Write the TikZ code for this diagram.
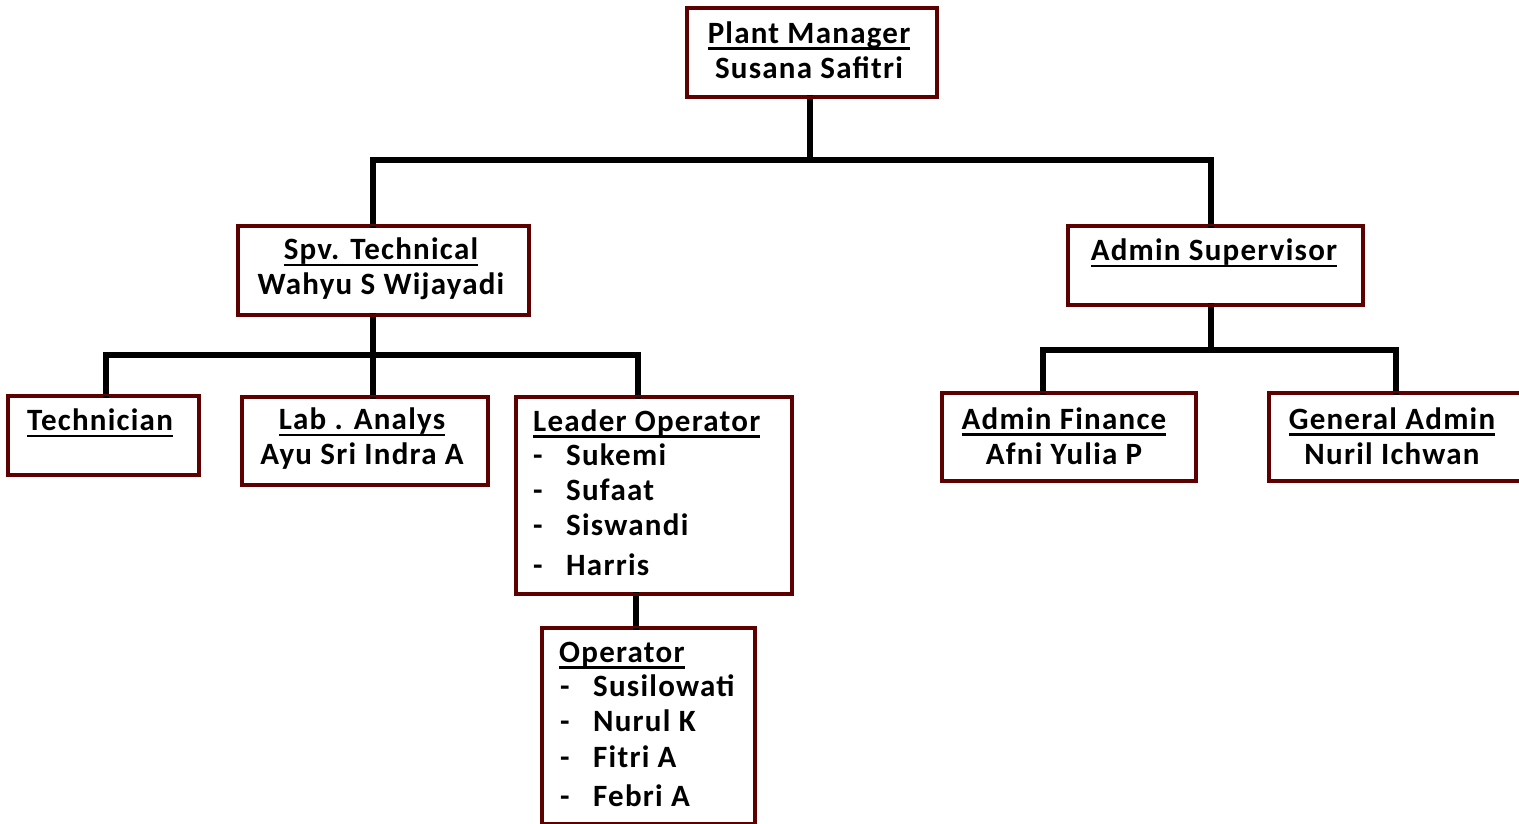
\documentclass[tikz,border=0pt]{standalone}
\usepackage{fontspec}
\setmainfont{Carlito}[LetterSpace=4]
\definecolor{boxred}{HTML}{5C0000}
\newcommand\ttlline[1]{\leavevmode\setbox0\hbox{#1}\rlap{\rule[-6.5pt]{\wd0}{2.6pt}}\box0}
\begin{document}
\begin{tikzpicture}[x=1pt,y=-1pt,
  box/.style={draw=boxred, line width=2.8pt, fill=white, anchor=north west, inner sep=0pt},
  txt/.style={font=\fontsize{31}{35}\selectfont\bfseries, align=center, inner sep=0pt},
  ltxt/.style={font=\fontsize{31}{35}\selectfont\bfseries, anchor=base west, inner sep=0pt},
  link/.style={line width=5.5pt, line cap=rect}]
\useasboundingbox (0,0) rectangle (1519,824);
% boxes
\node[box, minimum width=249pt, minimum height=88pt] (pm) at (686,7) {};
\node[box, minimum width=290pt, minimum height=88pt] (spv) at (237,225) {};
\node[box, minimum width=294pt, minimum height=78pt] (as) at (1067,225) {};
\node[box, minimum width=190pt, minimum height=78pt] (tech) at (7,395) {};
\node[box, minimum width=245pt, minimum height=87pt] (lab) at (241,396) {};
\node[box, minimum width=275pt, minimum height=196pt] (lo) at (515,396) {};
\node[box, minimum width=212pt, minimum height=195pt] (op) at (541,627) {};
\node[box, minimum width=253pt, minimum height=87pt] (af) at (941,392) {};
\node[box, minimum width=255pt, minimum height=87pt] (ga) at (1268,392) {};
% connectors
\coordinate (j1) at (810,160);
\coordinate (j1l) at (373,160);
\coordinate (j1r) at (1211,160);
\coordinate (j2) at (373,355);
\coordinate (j2l) at (106,355);
\coordinate (j2r) at (638,355);
\coordinate (j3) at (1211,350);
\coordinate (j3l) at (1043,350);
\coordinate (j3r) at (1396,350);
\draw[link] (pm.south -| j1) -- (j1);
\draw[link] (j1l |- spv.north) -- (j1l) -- (j1r) -- (j1r |- as.north);
\draw[link] (j2 |- spv.south) -- (j2);
\draw[link] (j2l |- tech.north) -- (j2l) -- (j2r) -- (j2r |- lo.north);
\draw[link] (j2) -- (j2 |- lab.north);
\draw[link] (j3 |- as.south) -- (j3);
\draw[link] (j3l |- af.north) -- (j3l) -- (j3r) -- (j3r |- ga.north);
\draw[link] (636,0 |- lo.south) -- (636,0 |- op.north);
% redraw box borders over the line ends
\foreach \b in {pm,spv,as,tech,lab,lo,op,af,ga}{
  \draw[draw=boxred, line width=2.8pt] (\b.north west) rectangle (\b.south east);
}
% texts
\node[txt] (tpm) at (809,50) {\ttlline{Plant Manager}\\Susana Safitri};
\node[txt] (tspv) at (381,269) {\ttlline{Spv. Technical}\\Wahyu S Wijayadi};
\node[txt] (tas) at (1214,253) {\ttlline{Admin Supervisor}};
\node[txt] (ttech) at (100,423) {\ttlline{Technician}};
\node[txt] (tlab) at (362,439) {\ttlline{Lab . Analys}\\Ayu Sri Indra A};
\node[txt] (taf) at (1064,436) {\ttlline{Admin Finance}\\Afni Yulia P};
\node[txt] (tga) at (1392,436) {\ttlline{General Admin}\\Nuril Ichwan};
% Leader operator list
\node[ltxt] (tlo) at (533,431) {\ttlline{Leader Operator}};
\node[ltxt] (lo1d) at (533,465) {-};
\node[ltxt] (lo1) at (566,465) {Sukemi};
\node[ltxt] (lo2d) at (533,500) {-};
\node[ltxt] (lo2) at (566,500) {Sufaat};
\node[ltxt] (lo3d) at (533,535) {-};
\node[ltxt] (lo3) at (566,535) {Siswandi};
\node[ltxt] (lo4d) at (533,575) {-};
\node[ltxt] (lo4) at (566,575) {Harris};
% Operator list
\node[ltxt] (top) at (559,662) {\ttlline{Operator}};
\node[ltxt] (op1d) at (560,696) {-};
\node[ltxt] (op1) at (593,696) {Susilowati};
\node[ltxt] (op2d) at (560,731) {-};
\node[ltxt] (op2) at (593,731) {Nurul K};
\node[ltxt] (op3d) at (560,767) {-};
\node[ltxt] (op3) at (593,767) {Fitri A};
\node[ltxt] (op4d) at (560,806) {-};
\node[ltxt] (op4) at (593,806) {Febri A};
\end{tikzpicture}
\end{document}
